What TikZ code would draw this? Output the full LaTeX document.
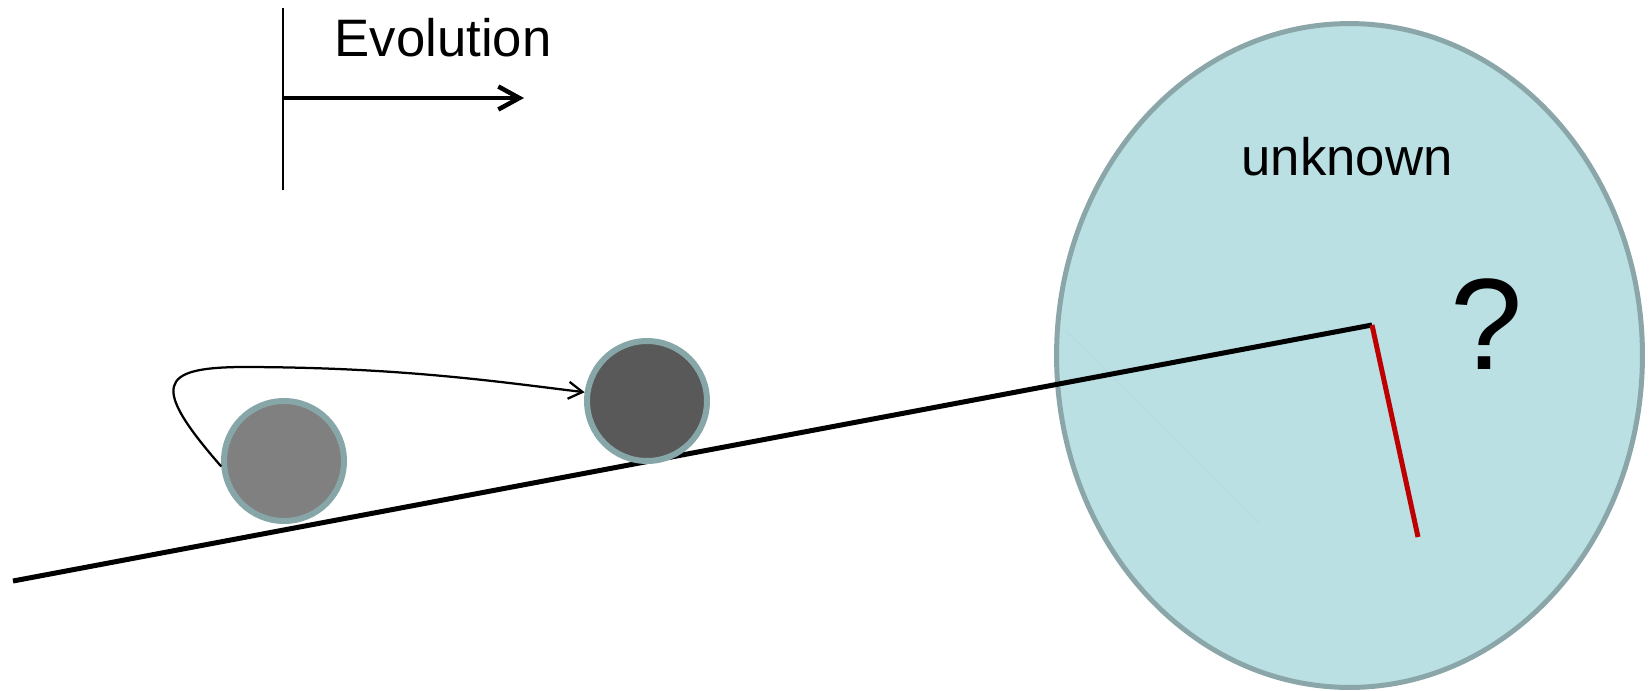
\documentclass[tikz,border=0pt]{standalone}
\usepackage{fontspec}
\setmainfont{Liberation Sans}
\usetikzlibrary{arrows.meta,calc}
\definecolor{BallEdgeClr}{rgb}{0.53,0.65,0.66}
\definecolor{OldBallClr}{rgb}{0.5,0.5,0.5}
\definecolor{NewBallClr}{rgb}{0.35,0.35,0.35}
\definecolor{UnknownClr}{rgb}{0.73,0.88,0.89}
\definecolor{UnknownEdgeClr}{rgb}{0.54,0.65,0.66}
\definecolor{DropClr}{rgb}{0.75,0,0}

\begin{document}
\begin{tikzpicture}[x=0.02cm,y=-0.02cm,
  ball/.style={circle,draw=BallEdgeClr,line width=0.12cm,minimum size=2.40cm,inner sep=0pt},
  txt/.style={font=\fontsize{30}{36}\selectfont,anchor=base,inner sep=0pt}]
\useasboundingbox (0,0) rectangle (1652,690);

% the unknown region
\draw[line width=0.1cm,draw=UnknownEdgeClr,fill=UnknownClr] (1349.5,355.5) ellipse [x radius=5.86cm,y radius=6.64cm];
\draw[line width=0.03cm,UnknownEdgeClr!7!UnknownClr] (1065,330) -- (1258,522);

\coordinate (foot) at (13,581);
\coordinate (peak) at (1372,325);
\coordinate (drop) at (1418,537);

\draw[line width=0.1cm] (foot) -- (peak);
\draw[line width=0.1cm,DropClr] (peak) -- (drop);

\node[ball,fill=OldBallClr] (old) at (284,461) {};
\node[ball,fill=NewBallClr] (new) at (647,401) {};

\draw[line width=0.045cm,-{Straight Barb[length=0.28cm,width=0.34cm]}] (old.185)
  .. controls (150,385) and (160,368) .. (240,367)
  .. controls (400,367) and (500,382) .. (new.172);

% time axis
\coordinate (ttop) at (283,8);
\coordinate (tbot) at (283,190);
\coordinate (tmid) at (283,98);
\coordinate (tend) at (524,98);
\draw[line width=0.04cm] (ttop) -- (tbot);
\draw[line width=0.09cm,-{Straight Barb[length=0.42cm,width=0.46cm]}] (tmid) -- (tend);

\node[txt] (evo) at (443,56) {Evolution};
\node[txt] (unk) at (1347,175) {unknown};
\node[txt,font=\fontsize{74}{80}\selectfont] (quest) at (1487,369) {?};

\end{tikzpicture}
\end{document}
